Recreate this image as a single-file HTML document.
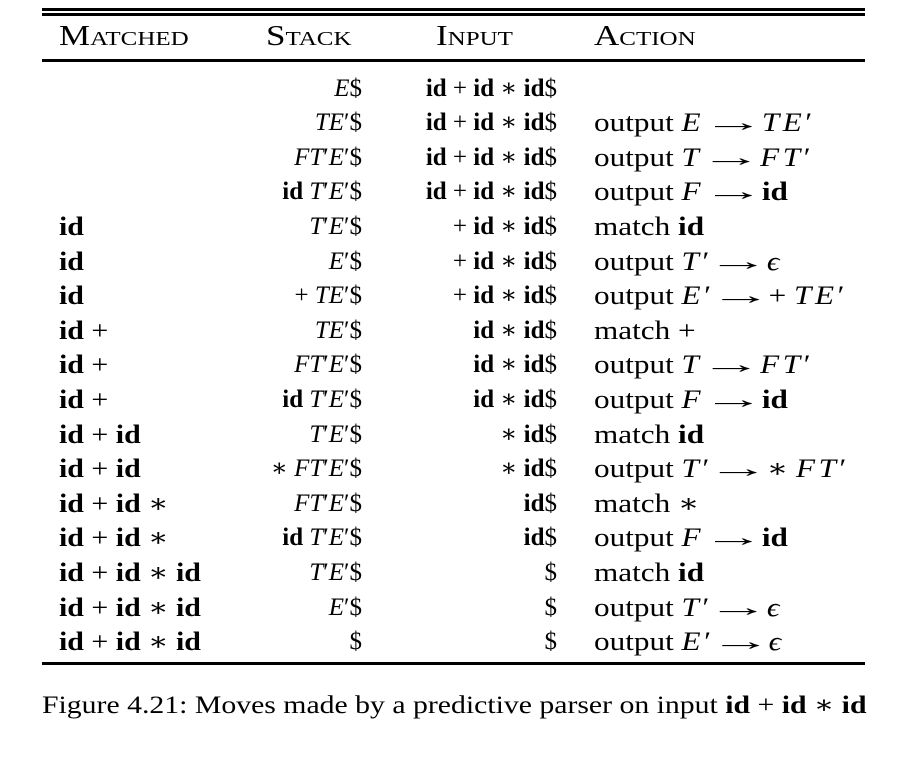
<!DOCTYPE html>
<html><head><meta charset="utf-8">
<style>
html,body{margin:0;padding:0;background:#fff;}
body{width:899px;height:763px;position:relative;overflow:hidden;font-family:"Liberation Serif","DejaVu Serif",serif;font-size:26px;color:#000;}
.r{position:absolute;height:3px;background:#000;left:42px;width:823px;}
.t{position:absolute;line-height:25px;white-space:nowrap;}
.m{left:59px;transform:scaleX(1.15);transform-origin:left center;}
.s{right:537px;text-align:right;font-size:25px;}
.i{right:342px;text-align:right;font-size:25px;}
.a{left:594px;transform:scaleX(1.2);transform-origin:left center;}
.a i{letter-spacing:3px;}
.ar{display:inline-block;width:48px;text-align:center;}
.ar span{display:inline-block;transform:scaleX(2);}
.h{font-variant:small-caps;font-size:28px;transform:scaleX(1.25);transform-origin:left center;}
i{font-style:italic;}
b{font-weight:bold;}
</style></head><body>
<div class="r" style="top:8px"></div>
<div class="r" style="top:13px"></div>
<div class="t h" style="left:59px;top:24px">Matched</div>
<div class="t h" style="left:266px;top:24px">Stack</div>
<div class="t h" style="left:436px;top:24px">Input</div>
<div class="t h" style="left:594px;top:24px">Action</div>
<div class="r" style="top:59px"></div>
<div id="rows"></div>
<div class="r" style="top:662px"></div>
<div class="t" style="left:42px;top:693px;font-size:25px;transform:scaleX(1.19);transform-origin:left center;">Figure 4.21: Moves made by a predictive parser on input <b>id</b> + <b>id</b> ∗ <b>id</b></div>
<script>
const ID='<b>id</b>';
const AR='<span class="ar"><span>→</span></span>';
const matched=['','','','',ID,ID,ID,ID+' +',ID+' +',ID+' +',ID+' + '+ID,ID+' + '+ID,ID+' + '+ID+' ∗',ID+' + '+ID+' ∗',ID+' + '+ID+' ∗ '+ID,ID+' + '+ID+' ∗ '+ID,ID+' + '+ID+' ∗ '+ID];
const stack=['<i>E</i>$','<i>TE</i>′$','<i>FT</i>′<i>E</i>′$',ID+' <i>T</i>′<i>E</i>′$','<i>T</i>′<i>E</i>′$','<i>E</i>′$','+ <i>TE</i>′$','<i>TE</i>′$','<i>FT</i>′<i>E</i>′$',ID+' <i>T</i>′<i>E</i>′$','<i>T</i>′<i>E</i>′$','∗ <i>FT</i>′<i>E</i>′$','<i>FT</i>′<i>E</i>′$',ID+' <i>T</i>′<i>E</i>′$','<i>T</i>′<i>E</i>′$','<i>E</i>′$','$'];
const full=ID+' + '+ID+' ∗ '+ID+'$', p1='+ '+ID+' ∗ '+ID+'$', p2=ID+' ∗ '+ID+'$', p3='∗ '+ID+'$', p4=ID+'$';
const input=[full,full,full,full,p1,p1,p1,p2,p2,p2,p3,p3,p4,p4,'$','$','$'];
const action=['','output <i>E</i>'+AR+'<i>TE</i>′','output <i>T</i>'+AR+'<i>FT</i>′','output <i>F</i>'+AR+ID,'match '+ID,'output <i>T</i>′'+AR+'<i>ϵ</i>','output <i>E</i>′'+AR+'+ <i>TE</i>′','match +','output <i>T</i>'+AR+'<i>FT</i>′','output <i>F</i>'+AR+ID,'match '+ID,'output <i>T</i>′'+AR+'∗ <i>FT</i>′','match ∗','output <i>F</i>'+AR+ID,'match '+ID,'output <i>T</i>′'+AR+'<i>ϵ</i>','output <i>E</i>′'+AR+'<i>ϵ</i>'];
const host=document.getElementById('rows');
const y0=96.5, dy=34.6;
function cell(cls,html,k,name){
  const d=document.createElement('div');
  d.className='t '+cls;
  d.style.top=(y0+k*dy-21)+'px';
  d.innerHTML=html;
  
  
  host.appendChild(d);
}
for(let k=0;k<stack.length;k++){
  if(matched[k])cell('m',matched[k],k,'matched-cell');
  cell('s',stack[k],k,'stack-cell');
  cell('i',input[k],k,'input-cell');
  if(action[k])cell('a',action[k],k,'action-cell');
}
</script>
</body></html>
